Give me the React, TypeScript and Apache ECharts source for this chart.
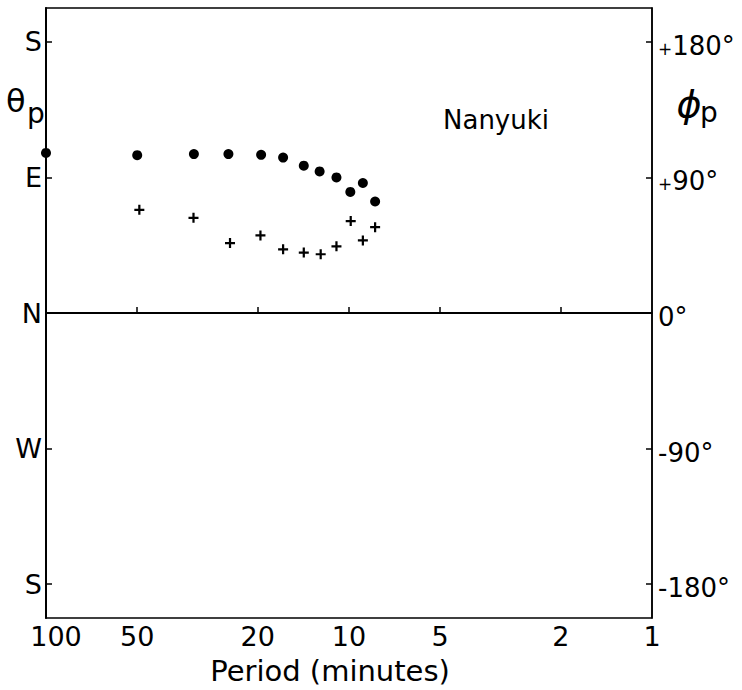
import React, { useEffect, useRef } from "react";
import * as echarts from "echarts";

// Period (minutes) and azimuth (degrees)
const dotPeriods = [100, 50, 32.5, 25, 19.5, 16.5, 14.1, 12.5, 11.0, 9.9, 9.0, 8.2];
const dotTheta = [106.3, 104.8, 105.5, 105.5, 105, 103.2, 97.8, 94, 90, 80.4, 86.3, 74];

const crossPeriods = [49.2, 32.6, 24.7, 19.6, 16.5, 14.1, 12.4, 11.0, 9.87, 9.0, 8.2];
const crossPhi = [68.5, 63.2, 46.4, 51.5, 42.3, 40.1, 39, 44.3, 61, 48.2, 57];

const xLabelValues = [100, 50, 20, 10, 5, 2, 1];
const xTickValues = [50, 20, 10, 5, 2];
const yTickValues = [-180, -90, 0, 90, 180];
const leftTickLabels = ["S", "W", "N", "E", "S"];
const rightTickLabels = ["-180°", "-90°", "0°", "+90°", "+180°"];
const ZERO_LINE = 0;
const Y_MIN = -202.5;
const Y_MAX = 202.5;

const FONT = "DejaVu Sans";
const CROSS = "path://M3.5,0h2v3.5h3.5v2h-3.5v3.5h-2v-3.5h-3.5v-2h3.5z";

export default function App() {
  const ref = useRef<HTMLDivElement>(null);
  useEffect(() => {
    document.body.style.margin = "0";
    const chart = echarts.init(ref.current!, null, { renderer: "svg" });
    const yCommon = {
      type: "value",
      min: Y_MIN,
      max: Y_MAX,
      splitLine: { show: false },
      axisLine: { show: true, lineStyle: { color: "#000", width: 2 } },
      axisTick: {
        show: true,
        inside: true,
        length: 6,
        customValues: yTickValues,
        lineStyle: { color: "#000", width: 1.5 },
      },
    };
    chart.setOption({
      animation: false,
      backgroundColor: "#fff",
      grid: {
        left: 46,
        right: 90,
        top: 8,
        bottom: 72,
        show: true,
        borderColor: "#000",
        borderWidth: 1.5,
        backgroundColor: "transparent",
      },
      xAxis: {
        type: "log",
        logBase: 10,
        min: 1,
        max: 100,
        inverse: true,
        name: "Period (minutes)",
        nameLocation: "middle",
        nameGap: 38,
        nameTextStyle: {
          fontFamily: FONT,
          fontSize: 29,
          color: "#000",
          padding: [0, 38, 0, 0],
        },
        splitLine: { show: false },
        minorTick: { show: false },
        axisLine: { show: true, lineStyle: { color: "#000", width: 1.5 } },
        axisTick: {
          show: true,
          inside: true,
          length: 6,
          customValues: xTickValues,
          lineStyle: { color: "#000", width: 1.5 },
        },
        axisLabel: {
          customValues: xLabelValues,
          fontFamily: FONT,
          fontSize: 27,
          color: "#000",
          margin: 5,
          formatter: (v: number) => (Math.round(v) === 100 ? "{a|100}" : String(Math.round(v))),
          rich: { a: { fontFamily: FONT, fontSize: 27, color: "#000", padding: [0, 0, 0, 20] } },
        },
      },
      yAxis: [
        {
          ...yCommon,
          position: "left",
          axisLabel: {
            customValues: yTickValues,
            fontFamily: FONT,
            fontSize: 27,
            color: "#000",
            margin: 4,
            padding: [8, 0, 0, 0],
            formatter: (v: number) => leftTickLabels[yTickValues.indexOf(Math.round(v))] ?? "",
          },
        },
        {
          ...yCommon,
          position: "right",
          axisLine: { show: true, lineStyle: { color: "#000", width: 1.5 } },
          axisLabel: {
            customValues: yTickValues,
            fontFamily: FONT,
            fontSize: 26,
            color: "#000",
            margin: 6,
            padding: [8, 0, 0, 0],
            formatter: (v: number) => {
              const s = rightTickLabels[yTickValues.indexOf(Math.round(v))] ?? "";
              return s.startsWith("+") ? "{p|+}{n|" + s.slice(1) + "}" : s;
            },
            rich: {
              p: { fontFamily: FONT, fontSize: 17, color: "#000", padding: [6, 0, 0, 0] },
              n: { fontFamily: FONT, fontSize: 26, color: "#000" },
            },
          },
        },
      ],
      series: [
        {
          type: "scatter",
          yAxisIndex: 0,
          symbol: "circle",
          symbolSize: 10,
          clip: false,
          itemStyle: { color: "#000", opacity: 1 },
          data: dotPeriods.map((p, i) => [p, dotTheta[i]]),
          markLine: {
            silent: true,
            symbol: "none",
            label: { show: false },
            lineStyle: { color: "#000", width: 2, type: "solid", opacity: 1 },
            data: [{ yAxis: ZERO_LINE }],
          },
        },
        {
          type: "scatter",
          yAxisIndex: 1,
          symbol: CROSS,
          symbolSize: 10,
          clip: false,
          itemStyle: { color: "#000", opacity: 1 },
          data: crossPeriods.map((p, i) => [p, crossPhi[i]]),
        },
      ],
      graphic: [
        {
          type: "text",
          x: 6,
          y: 101,
          style: { text: "θ", font: `32px '${FONT}'`, fill: "#000", verticalAlign: "middle" },
        },
        {
          type: "text",
          x: 27,
          y: 113,
          style: { text: "p", font: `28px '${FONT}'`, fill: "#000", verticalAlign: "middle" },
        },
        {
          type: "text",
          x: 689,
          y: 104,
          style: {
            text: "ϕ",
            font: `italic 38px '${FONT}'`,
            fill: "#000",
            align: "center",
            verticalAlign: "middle",
          },
        },
        {
          type: "text",
          x: 700,
          y: 112,
          style: { text: "p", font: `28px '${FONT}'`, fill: "#000", verticalAlign: "middle" },
        },
        {
          type: "text",
          x: 443,
          y: 120,
          style: { text: "Nanyuki", font: `26px '${FONT}'`, fill: "#000", verticalAlign: "middle" },
        },
      ],
    });
    return () => chart.dispose();
  }, []);
  return <div ref={ref} style={{ width: 742, height: 690 }} />;
}
